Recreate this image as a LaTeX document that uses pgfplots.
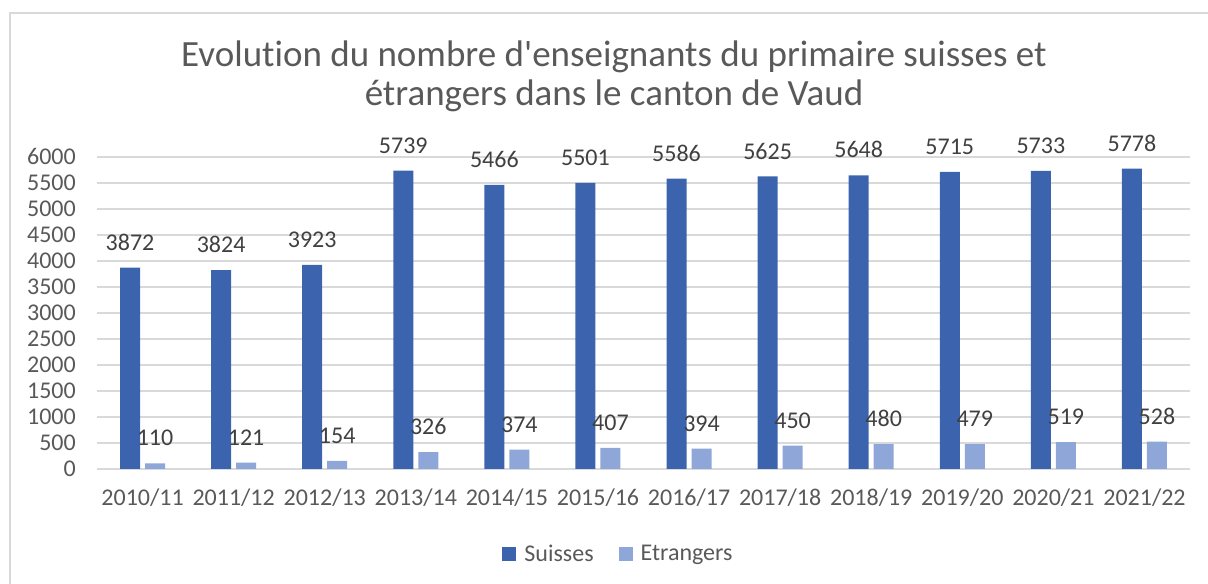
\documentclass[border=0pt]{standalone}
\usepackage{fontspec}
\setmainfont{Carlito}[Ligatures={TeXOff,NoCommon}, RawFeature={-liga;-clig;-dlig}]
\usepackage{pgfplots}
\pgfplotsset{compat=1.18}
\definecolor{suisse}{HTML}{3C64AE}
\definecolor{etr}{HTML}{8FA6D8}
\definecolor{txt}{HTML}{595959}
\definecolor{lbl}{HTML}{404040}
\definecolor{gridc}{HTML}{D9D9D9}
\begin{document}
\begin{tikzpicture}[x=1bp,y=1bp]
\useasboundingbox (0,0) rectangle (1208,584);
\draw[gridc, line width=1.5bp] (10,-20) -- (10,571) -- (1240,571);
\node[anchor=base, text=txt, font=\fontsize{37bp}{44bp}\selectfont, inner sep=0] at (614,517) {Evolut\kern0pt ion du nombre d'enseignants du primaire suisses et};
\node[anchor=base, text=txt, font=\fontsize{37bp}{44bp}\selectfont, inner sep=0] at (614,478) {étrangers dans le canton de Vaud};
\begin{axis}[
  at={(97bp,115bp)}, anchor=south west,
  scale only axis, width=1093bp, height=312bp,
  clip=false,
  ybar=5bp, bar width=20bp,
  xmin=-0.5, xmax=11.5, ymin=0, ymax=6000,
  xtick={0,...,11},
  xticklabels={2010/11,2011/12,2012/13,2013/14,2014/15,2015/16,2016/17,2017/18,2018/19,2019/20,2020/21,2021/22},
  ytick={0,500,...,6000},
  scaled y ticks=false,
  /pgf/number format/1000 sep={},
  /pgf/number format/assume math mode=true,
  ymajorgrids, grid style={gridc, line width=1.5bp},
  axis line style={draw=none},
  major tick length=0pt,
  xticklabel style={anchor=base, yshift=-37bp, inner sep=0pt, font=\fontsize{24bp}{29bp}\selectfont, text=txt},
  yticklabel style={anchor=base east, xshift=-21bp, yshift=-7.6bp, inner sep=0pt, font=\fontsize{24bp}{29bp}\selectfont, text=txt},
  nodes near coords,
  every node near coord/.append style={font=\fontsize{24bp}{29bp}\selectfont, text=lbl, inner sep=0pt, anchor=south, yshift=17bp},
  legend style={at={(0.4771,-0.2724)}, anchor=center, draw=none, fill=none, legend columns=2,
    font=\fontsize{24bp}{29bp}\selectfont, text=txt, column sep=6bp,
    /tikz/every even column/.append style={column sep=23bp}},
]
\addplot[fill=suisse, draw=none, legend image code/.code={\fill[suisse] (0bp,-7bp) rectangle (14bp,7bp);}] coordinates {
(0,3872) (1,3824) (2,3923) (3,5739) (4,5466) (5,5501) (6,5586) (7,5625) (8,5648) (9,5715) (10,5733) (11,5778)};
\addplot[fill=etr, draw=none, legend image code/.code={\fill[etr] (0bp,-7bp) rectangle (14bp,7bp);}] coordinates {
(0,110) (1,121) (2,154) (3,326) (4,374) (5,407) (6,394) (7,450) (8,480) (9,479) (10,519) (11,528)};
\legend{Suisses,Etrangers}
\end{axis}
\end{tikzpicture}
\end{document}
